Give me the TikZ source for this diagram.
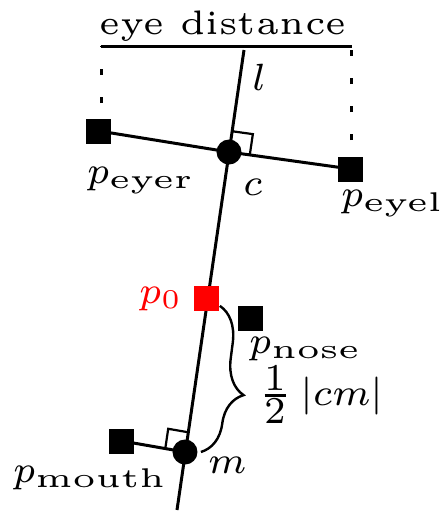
\documentclass[tikz,border=0pt]{standalone}
\usepackage{graphicx}
\usetikzlibrary{calc,backgrounds,decorations.pathreplacing}
\newcommand{\subtxt}[1]{\scalebox{1.25}[1]{$\scriptstyle\mathrm{#1}$}}
\newcommand{\fracdigit}[1]{\mbox{#1}}
\begin{document}
\begin{tikzpicture}[x=0.5pt,y=-0.5pt,
  ln/.style={line width=1.5pt},
  thinln/.style={line width=1.1pt},
  sq/.style={rectangle,fill=black,minimum size=12.5pt,inner sep=0pt},
  dotnode/.style={circle,fill=black,minimum size=12.5pt,inner sep=0pt},
  lab/.style={font=\scriptsize,scale=2.71,inner sep=0pt},
  ttl/.style={font=\tiny,scale=3.4,inner sep=0pt},
  dimdash/.style={line width=1.5pt,dash pattern=on 3pt off 11pt},
  bracestyle/.style={line width=1.2pt,decorate,decoration={brace,amplitude=17.5pt,aspect=0.58}}
]
\useasboundingbox (0,0) rectangle (445,516);

% axis l
\coordinate (ltop) at (244,50);
\coordinate (lbot) at (177,510);

% points
\node[dotnode] (c) at (229,152) {};
\node[dotnode] (m) at (185,452) {};
\node[sq] (peyer) at (99,131) {};
\node[sq] (peyel) at (351,169) {};
\node[sq,fill=red] (p0) at (207,298) {};
\node[sq] (pnose) at (251,318) {};
\node[sq] (pmouth) at (122,441) {};

% lines behind points
\begin{scope}[on background layer]
  \draw[ln] (ltop) -- (lbot);
  \draw[ln] (peyer.center) -- (c.center) -- (peyel.center);
  \draw[ln] (pmouth.center) -- (m.center);
\end{scope}

% eye distance bar
\coordinate (barL) at (101,46);
\coordinate (barR) at (352,46);
\coordinate (dl) at (102,103);
\coordinate (dr) at (352,140);
\draw[ln] (barL) -- (barR);
\draw[dimdash] (dl) -- (dl |- barL);
\draw[dimdash] (dr) -- (barR);
\node[ttl,anchor=base] (title) at (223,34) {eye distance};

% right angle at c
\coordinate (ca) at ($(c.center)!10.5pt!(ltop)$);
\coordinate (cb) at ($(c.center)!10.5pt!(peyel.center)$);
\coordinate (cc) at ($(ca)+(cb)-(c.center)$);
\draw[thinln] (ca) -- (cc) -- (cb);

% right angle at m
\coordinate (ma) at ($(m.center)!10pt!(ltop)$);
\coordinate (mb) at ($(m.center)!10pt!(pmouth.center)$);
\coordinate (mc) at ($(ma)+(mb)-(m.center)$);
\draw[thinln] (ma) -- (mc) -- (mb);

% brace
\coordinate (bs) at ($(p0.south east)+(0,-5)$);
\coordinate (be) at ($(m.east)+(3,0)$);
\draw[bracestyle] (bs) -- (be);

% labels
\node[lab,anchor=base] (Ll) at (259,90) {$l$};
\node[lab,anchor=base west] (Leyer) at (86,183) {$p_{\subtxt{eyer}}$};
\node[lab,anchor=base west] (Lc) at (242,195) {$c$};
\node[lab,anchor=base west] (Leyel) at (340,206) {$p_{\subtxt{eyel}}$};
\node[lab,anchor=base west,text=red] (Lp0) at (138,303) {$p_0$};
\node[lab,anchor=base west] (Lnose) at (248,353) {$p_{\subtxt{nose}}$};
\node[lab,anchor=base west] (Lhalf) at (257,405) {$\textstyle\frac{\fracdigit{1}}{\fracdigit{2}}\,|cm|$};
\node[lab,anchor=base west] (Lm) at (207,473) {$m$};
\node[lab,anchor=base west] (Lmouth) at (12,482) {$p_{\subtxt{mouth}}$};
\end{tikzpicture}
\end{document}
